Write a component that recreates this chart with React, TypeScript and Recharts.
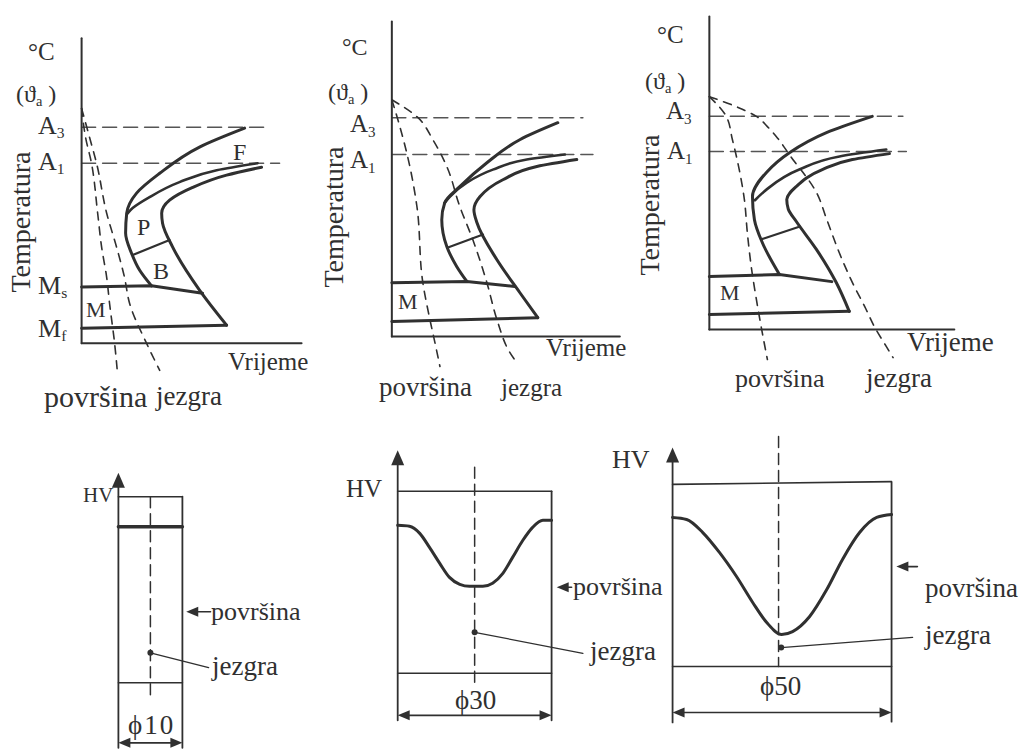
import React from "react";
import { ComposedChart, Line, Scatter, XAxis, YAxis } from "recharts";

type Pt = { x: number; y: number };
type Head = Pt & { dir: "up" | "left" | "right" };

const INK = "#303030";
const GREY = "#555";
const SERIF = '"Liberation Serif", "DejaVu Serif", "Times New Roman", serif';

// CCT diagrams: time 0..100 on x, temperature 0..100 on y (axis top = 100)
const tempAxis: Pt[] = [{ x: 0, y: 0 }, { x: 0, y: 100 }];
const timeAxis: Pt[] = [{ x: 0, y: 0 }, { x: 100, y: 0 }];

// --- diagram 1 (phi 10)
const d1A3: Pt[] = [{ x: 0, y: 70.8 }, { x: 85.5, y: 70.8 }];
const d1A1: Pt[] = [{ x: 0, y: 59 }, { x: 90, y: 59 }];
const d1Start: Pt[] = [
  { x: 74.1, y: 70.5 }, { x: 53.6, y: 64.3 }, { x: 35.5, y: 55.7 }, { x: 25, y: 49.2 },
  { x: 20.5, y: 42.6 }, { x: 20, y: 36.1 }, { x: 22.7, y: 29.5 }, { x: 26.4, y: 23.9 }, { x: 31.8, y: 18.8 },
];
const d1Ferrite: Pt[] = [
  { x: 80, y: 59 }, { x: 61.4, y: 56.7 }, { x: 44.5, y: 52.8 }, { x: 30.9, y: 47.9 },
  { x: 23.2, y: 44.3 }, { x: 20.7, y: 42.4 },
];
const d1End: Pt[] = [
  { x: 81.8, y: 57.7 }, { x: 65.9, y: 55.1 }, { x: 50.5, y: 51.1 }, { x: 40, y: 46.9 },
  { x: 36.4, y: 42.6 }, { x: 36.8, y: 39.3 }, { x: 41.4, y: 31.5 }, { x: 53.6, y: 17.4 }, { x: 65.9, y: 5.9 },
];
const d1PB: Pt[] = [{ x: 23.2, y: 28.9 }, { x: 40, y: 33.8 }];
const d1Ms: Pt[] = [{ x: 0, y: 18.4 }, { x: 31.8, y: 18.8 }, { x: 55, y: 16.4 }];
const d1Mf: Pt[] = [{ x: 0, y: 4.9 }, { x: 65.9, y: 5.9 }];
const d1Surface: Pt[] = [
  { x: 0, y: 77 }, { x: 1.8, y: 67.5 }, { x: 4.5, y: 59 }, { x: 7.3, y: 42.6 }, { x: 9.1, y: 31.5 },
  { x: 11.4, y: 21.6 }, { x: 12.7, y: 13.1 }, { x: 15, y: 0 }, { x: 16.4, y: -10.5 },
];
const d1Core: Pt[] = [
  { x: 0, y: 77 }, { x: 3.6, y: 67.5 }, { x: 6.8, y: 59 }, { x: 11.4, y: 42.6 }, { x: 15.9, y: 31.5 },
  { x: 19.5, y: 21.6 }, { x: 21.8, y: 13.1 }, { x: 29.5, y: 0 }, { x: 35.5, y: -8.9 },
];

// --- diagram 2 (phi 30)
const d2A3: Pt[] = [{ x: 0, y: 69.5 }, { x: 83.8, y: 69.5 }];
const d2A1: Pt[] = [{ x: 0, y: 57.8 }, { x: 88.2, y: 57.8 }];
const d2Start: Pt[] = [
  { x: 72.8, y: 67.9 }, { x: 56.1, y: 62.5 }, { x: 41.7, y: 55.2 }, { x: 29.8, y: 47.6 },
  { x: 23.2, y: 42.5 }, { x: 21.9, y: 37.1 }, { x: 24.1, y: 28.6 }, { x: 28.5, y: 22.2 }, { x: 32.9, y: 17.5 },
];
const d2Ferrite: Pt[] = [
  { x: 75.9, y: 57.8 }, { x: 59.2, y: 56.2 }, { x: 44.3, y: 53 }, { x: 32.9, y: 48.9 },
  { x: 25.4, y: 44.4 }, { x: 23, y: 42.3 },
];
const d2End: Pt[] = [
  { x: 81.1, y: 56.2 }, { x: 63.6, y: 54 }, { x: 48.7, y: 49.8 }, { x: 38.6, y: 44.4 },
  { x: 36, y: 40.3 }, { x: 37.3, y: 36.2 }, { x: 46.1, y: 24.4 }, { x: 56.1, y: 14 }, { x: 64, y: 6 },
];
const d2PB: Pt[] = [{ x: 24.6, y: 28.3 }, { x: 40, y: 32.4 }];
const d2Ms: Pt[] = [{ x: 0, y: 17.1 }, { x: 32.9, y: 17.5 }, { x: 54, y: 15.9 }];
const d2Mf: Pt[] = [{ x: 0, y: 4.8 }, { x: 64, y: 6 }];
const d2Surface: Pt[] = [
  { x: 0, y: 75.2 }, { x: 3.5, y: 66.7 }, { x: 7.9, y: 54 }, { x: 11, y: 41.3 },
  { x: 13.6, y: 17.1 }, { x: 16.7, y: 5.4 }, { x: 18.9, y: -1.9 }, { x: 21.1, y: -9.5 },
];
const d2Core: Pt[] = [
  { x: 0, y: 75.2 }, { x: 11, y: 69.8 }, { x: 18, y: 62.5 }, { x: 24.1, y: 54 }, { x: 29.8, y: 41.3 },
  { x: 35.5, y: 30.8 }, { x: 41.7, y: 17.1 }, { x: 46.1, y: 5.4 }, { x: 51.8, y: -5.1 }, { x: 54.8, y: -8.3 },
];

// --- diagram 3 (phi 50)
const d3A3: Pt[] = [{ x: 0, y: 68.1 }, { x: 79, y: 68.1 }];
const d3A1: Pt[] = [{ x: 0, y: 56.9 }, { x: 80.4, y: 56.9 }];
const d3Start: Pt[] = [
  { x: 66.5, y: 68.1 }, { x: 47.8, y: 62.9 }, { x: 32.7, y: 56.5 }, { x: 23.3, y: 50.2 },
  { x: 17.6, y: 42.5 }, { x: 18.4, y: 35.1 }, { x: 21.6, y: 27.8 }, { x: 28.6, y: 17.6 },
];
const d3Ferrite: Pt[] = [
  { x: 72.2, y: 57.5 }, { x: 53.1, y: 55.3 }, { x: 36.7, y: 51.1 }, { x: 23.3, y: 44.7 }, { x: 18.6, y: 41.3 },
];
const d3End: Pt[] = [
  { x: 73.5, y: 56.2 }, { x: 58.4, y: 54.3 }, { x: 46.1, y: 51.1 }, { x: 35.5, y: 45.7 }, { x: 31.6, y: 41.5 },
  { x: 32.2, y: 38.5 }, { x: 35.5, y: 34.5 }, { x: 43.7, y: 25.6 }, { x: 51.8, y: 15 }, { x: 57.1, y: 5.8 },
];
const d3PB: Pt[] = [{ x: 21.2, y: 28.8 }, { x: 37, y: 32.9 }];
const d3Ms: Pt[] = [{ x: 0, y: 16.9 }, { x: 28.6, y: 17.6 }, { x: 50, y: 15.3 }];
const d3Mf: Pt[] = [{ x: 0, y: 4.8 }, { x: 57.1, y: 5.8 }];
const d3Surface: Pt[] = [
  { x: 0, y: 74.4 }, { x: 6.9, y: 68.1 }, { x: 9.4, y: 60.7 }, { x: 12.2, y: 51.1 }, { x: 14.3, y: 41.5 },
  { x: 15.5, y: 31 }, { x: 17.1, y: 20.1 }, { x: 19.2, y: 9.6 }, { x: 21.6, y: -1 }, { x: 23.7, y: -9.6 },
];
const d3Core: Pt[] = [
  { x: 0, y: 74.4 }, { x: 12.2, y: 70.8 }, { x: 19.2, y: 68.1 }, { x: 23.5, y: 65 }, { x: 27.3, y: 61.7 },
  { x: 33, y: 55.5 }, { x: 43.7, y: 43.8 }, { x: 48, y: 35 }, { x: 53, y: 24.6 }, { x: 58.4, y: 15 },
  { x: 64, y: 6.4 }, { x: 67.3, y: 1 }, { x: 72.2, y: -5.4 }, { x: 75, y: -9 },
];

// --- hardness profiles: x = position across diameter (mm), y = HV (box top = 100)
const h1Left: Pt[] = [{ x: -5, y: -35 }, { x: -5, y: 110 }];
const h1Right: Pt[] = [{ x: 5, y: -35 }, { x: 5, y: 100 }];
const h1Top: Pt[] = [{ x: -5, y: 100 }, { x: 5, y: 100 }];
const h1Base: Pt[] = [{ x: -5, y: 0 }, { x: 5, y: 0 }];
const h1Profile: Pt[] = [{ x: -5, y: 83.9 }, { x: 5, y: 83.9 }];
const h1Center: Pt[] = [{ x: 0, y: 100 }, { x: 0, y: -9 }];
const h1Leader: Pt[] = [{ x: 0, y: 16.1 }, { x: 9.1, y: 8.1 }];
const h1SurfArrow: Pt[] = [{ x: 9.4, y: 38.2 }, { x: 6.5, y: 38.2 }];
const h1Dim: Pt[] = [{ x: -4, y: -32.3 }, { x: 4, y: -32.3 }];
const h1Heads: Head[] = [
  { x: -5, y: 112.9, dir: "up" }, { x: 5.6, y: 38.2, dir: "left" },
  { x: -5, y: -32.3, dir: "left" }, { x: 5, y: -32.3, dir: "right" },
];
const h1Core: Pt[] = [{ x: 0, y: 16.1 }];

const h2Left: Pt[] = [{ x: -15, y: -25.8 }, { x: -15, y: 120 }];
const h2Right: Pt[] = [{ x: 15, y: -25.8 }, { x: 15, y: 100 }];
const h2Top: Pt[] = [{ x: -15, y: 100 }, { x: 15, y: 100 }];
const h2Base: Pt[] = [{ x: -15, y: 0 }, { x: 15, y: 0 }];
const h2Profile: Pt[] = [
  { x: -15, y: 81.3 }, { x: -12.7, y: 80.8 }, { x: -10.7, y: 76.9 }, { x: -8.8, y: 69.2 }, { x: -6.8, y: 60.4 },
  { x: -4.9, y: 52.7 }, { x: -2.9, y: 48.9 }, { x: -1, y: 47.8 }, { x: 1.6, y: 47.8 }, { x: 3.5, y: 49.5 },
  { x: 5.5, y: 54.9 }, { x: 7.4, y: 63.7 }, { x: 9.4, y: 73.1 }, { x: 11.3, y: 80.2 }, { x: 13.3, y: 84.1 }, { x: 15, y: 84.1 },
];
const h2Center: Pt[] = [{ x: 0, y: 113.2 }, { x: 0, y: -7.7 }];
const h2Leader: Pt[] = [{ x: 0, y: 22.5 }, { x: 21.1, y: 11 }];
const h2SurfArrow: Pt[] = [{ x: 18.9, y: 47.3 }, { x: 17, y: 47.3 }];
const h2Dim: Pt[] = [{ x: -14, y: -23.1 }, { x: 14, y: -23.1 }];
const h2Heads: Head[] = [
  { x: -15, y: 122.5, dir: "up" }, { x: 16, y: 47.3, dir: "left" },
  { x: -15, y: -23.1, dir: "left" }, { x: 15, y: -23.1, dir: "right" },
];
const h2Core: Pt[] = [{ x: 0, y: 22.5 }];

const h3Left: Pt[] = [{ x: -25, y: -30.4 }, { x: -25, y: 117 }];
const h3Right: Pt[] = [{ x: 25, y: -30 }, { x: 25, y: 100 }];
const h3Top: Pt[] = [{ x: -25, y: 99 }, { x: 25, y: 100.5 }];
const h3Base: Pt[] = [{ x: -25, y: 0 }, { x: 25, y: 0 }];
const h3Profile: Pt[] = [
  { x: -25, y: 81 }, { x: -21.8, y: 79.9 }, { x: -18.1, y: 72.8 }, { x: -14.3, y: 62 }, { x: -10.4, y: 48.9 },
  { x: -6.7, y: 34.8 }, { x: -3.5, y: 23.9 }, { x: -0.1, y: 17.4 }, { x: 2.4, y: 19 }, { x: 6.3, y: 27.2 },
  { x: 10.2, y: 41.8 }, { x: 13.8, y: 58.2 }, { x: 17.7, y: 72.8 }, { x: 21.6, y: 81 }, { x: 25, y: 82.6 },
];
const h3Center: Pt[] = [{ x: -0.8, y: 125 }, { x: -0.8, y: 0 }];
const h3Leader: Pt[] = [{ x: -0.2, y: 10.3 }, { x: 29.8, y: 15.8 }];
const h3SurfArrow: Pt[] = [{ x: 30.9, y: 54.3 }, { x: 27.5, y: 54.3 }];
const h3Dim: Pt[] = [{ x: -24, y: -25 }, { x: 24, y: -25 }];
const h3Heads: Head[] = [
  { x: -25, y: 119, dir: "up" }, { x: 26.1, y: 54.3, dir: "left" },
  { x: -25, y: -25, dir: "left" }, { x: 25, y: -25, dir: "right" },
];
const h3Core: Pt[] = [{ x: -0.2, y: 10.3 }];

type Series = { data: Pt[]; w: number; dash?: string; curve?: any; color?: string };
type Box = { ox: number; oy: number; sx: number; sy: number; xd: [number, number]; yd: [number, number] };

function ArrowHead(props: any) {
  const { cx, cy, payload } = props;
  if (cx == null || cy == null) return null;
  const big = payload.dir === "up";
  const len = big ? 15 : 12;
  const half = big ? 6.5 : 5;
  let d = "";
  if (payload.dir === "up") d = `M${cx},${cy} L${cx - half},${cy + len} L${cx + half},${cy + len} Z`;
  if (payload.dir === "left") d = `M${cx},${cy} L${cx + len},${cy - half} L${cx + len},${cy + half} Z`;
  if (payload.dir === "right") d = `M${cx},${cy} L${cx - len},${cy - half} L${cx - len},${cy + half} Z`;
  return <path d={d} fill={INK} />;
}

function CoreDot(props: any) {
  const { cx, cy } = props;
  if (cx == null || cy == null) return null;
  return <circle cx={cx} cy={cy} r={3} fill={INK} />;
}

function Panel({ box, series, heads, dots }: { box: Box; series: Series[]; heads?: Head[]; dots?: Pt[] }) {
  const { ox, oy, sx, sy, xd, yd } = box;
  const left = ox + xd[0] * sx;
  const top = oy - yd[1] * sy;
  const width = (xd[1] - xd[0]) * sx;
  const height = (yd[1] - yd[0]) * sy;
  return (
    <div style={{ position: "absolute", left, top }}>
      <ComposedChart width={width} height={height} margin={{ top: 0, right: 0, bottom: 0, left: 0 }}>
        <XAxis type="number" dataKey="x" domain={xd} allowDataOverflow hide />
        <YAxis type="number" dataKey="y" domain={yd} allowDataOverflow hide />
        {series.map((s, i) => (
          <Line
            key={i}
            data={s.data}
            dataKey="y"
            type={s.curve ?? "linear"}
            stroke={s.color ?? INK}
            strokeWidth={s.w}
            strokeDasharray={s.dash}
            strokeLinecap="round"
            dot={false}
            activeDot={false}
            isAnimationActive={false}
          />
        ))}
        {heads && <Scatter data={heads} shape={ArrowHead} isAnimationActive={false} />}
        {dots && <Scatter data={dots} shape={CoreDot} isAnimationActive={false} />}
      </ComposedChart>
    </div>
  );
}

function cct(
  a3: Pt[], a1: Pt[], start: Pt[], ferrite: Pt[], end: Pt[], pb: Pt[], ms: Pt[], mf: Pt[], surf: Pt[], core: Pt[]
): Series[] {
  return [
    { data: a3, w: 1.5, dash: "14 7", color: GREY },
    { data: a1, w: 1.5, dash: "14 7", color: GREY },
    { data: surf, w: 1.6, dash: "8 7", curve: "monotoneY" },
    { data: core, w: 1.6, dash: "8 7", curve: "monotoneY" },
    { data: tempAxis, w: 2 },
    { data: timeAxis, w: 2 },
    { data: start, w: 3, curve: "monotoneY" },
    { data: ferrite, w: 2.6, curve: "monotoneY" },
    { data: end, w: 3, curve: "monotoneY" },
    { data: pb, w: 2.2 },
    { data: ms, w: 3 },
    { data: mf, w: 3 },
  ];
}

function hv(
  l: Pt[], r: Pt[], t: Pt[], b: Pt[], prof: Pt[], c: Pt[], lead: Pt[], arr: Pt[], dim: Pt[], profW: number
): Series[] {
  return [
    { data: l, w: 1.8 },
    { data: r, w: 1.8 },
    { data: t, w: 1.6 },
    { data: b, w: 1.6 },
    { data: c, w: 1.5, dash: "11 6" },
    { data: prof, w: profW, curve: "monotoneX" },
    { data: lead, w: 1.3 },
    { data: arr, w: 1.6 },
    { data: dim, w: 1.6 },
  ];
}

const boxes: Record<string, Box> = {
  d1: { ox: 82, oy: 343, sx: 2.2, sy: 3.05, xd: [-3, 103], yd: [-14, 104] },
  d2: { ox: 392, oy: 337, sx: 2.28, sy: 3.15, xd: [-3, 103], yd: [-12, 104] },
  d3: { ox: 709, oy: 330, sx: 2.45, sy: 3.13, xd: [-3, 103], yd: [-12, 104] },
  h1: { ox: 150, oy: 683, sx: 6.4, sy: 1.86, xd: [-6, 16], yd: [-37, 116] },
  h2: { ox: 475, oy: 673, sx: 5.13, sy: 1.82, xd: [-16.5, 23], yd: [-28, 126] },
  h3: { ox: 782.5, oy: 667, sx: 4.38, sy: 1.84, xd: [-26.5, 32], yd: [-32, 128] },
};

function Txt({ x, y, fs, ls, children }: { x: number; y: number; fs: number; ls?: number; children: React.ReactNode }) {
  return (
    <div
      style={{
        position: "absolute",
        left: x,
        top: y - fs * 0.55,
        fontSize: fs,
        lineHeight: `${fs}px`,
        letterSpacing: ls ?? 0,
        whiteSpace: "nowrap",
        color: INK,
        fontFamily: SERIF,
      }}
    >
      {children}
    </div>
  );
}

function Sub({ children }: { children: React.ReactNode }) {
  return <span style={{ fontSize: "0.6em", position: "relative", top: "0.3em" }}>{children}</span>;
}

function VText({ x, y, fs, children }: { x: number; y: number; fs: number; children: React.ReactNode }) {
  return (
    <div
      style={{
        position: "absolute",
        left: x,
        top: y,
        fontSize: fs,
        lineHeight: `${fs}px`,
        whiteSpace: "nowrap",
        color: INK,
        fontFamily: SERIF,
        transform: "translate(-50%, -50%) rotate(-90deg)",
      }}
    >
      {children}
    </div>
  );
}

function Theta() {
  return (
    <>
      (ϑ<Sub>a</Sub> )
    </>
  );
}

export default function App() {
  return (
    <div
      style={{
        position: "absolute",
        left: 0,
        top: 0,
        width: 1026,
        height: 749,
        background: "#fff",
        overflow: "hidden",
        fontFamily: SERIF,
      }}
    >
      <Panel box={boxes.d1} series={cct(d1A3, d1A1, d1Start, d1Ferrite, d1End, d1PB, d1Ms, d1Mf, d1Surface, d1Core)} />
      <Panel box={boxes.d2} series={cct(d2A3, d2A1, d2Start, d2Ferrite, d2End, d2PB, d2Ms, d2Mf, d2Surface, d2Core)} />
      <Panel box={boxes.d3} series={cct(d3A3, d3A1, d3Start, d3Ferrite, d3End, d3PB, d3Ms, d3Mf, d3Surface, d3Core)} />

      <Panel
        box={boxes.h1}
        series={hv(h1Left, h1Right, h1Top, h1Base, h1Profile, h1Center, h1Leader, h1SurfArrow, h1Dim, 3.5)}
        heads={h1Heads}
        dots={h1Core}
      />
      <Panel
        box={boxes.h2}
        series={hv(h2Left, h2Right, h2Top, h2Base, h2Profile, h2Center, h2Leader, h2SurfArrow, h2Dim, 3)}
        heads={h2Heads}
        dots={h2Core}
      />
      <Panel
        box={boxes.h3}
        series={hv(h3Left, h3Right, h3Top, h3Base, h3Profile, h3Center, h3Leader, h3SurfArrow, h3Dim, 3)}
        heads={h3Heads}
        dots={h3Core}
      />

      {/* diagram 1 labels */}
      <Txt x={28} y={53} fs={25}>°C</Txt>
      <Txt x={16} y={95} fs={24}><Theta /></Txt>
      <Txt x={38} y={127} fs={26}>A<Sub>3</Sub></Txt>
      <Txt x={38} y={163} fs={26}>A<Sub>1</Sub></Txt>
      <Txt x={38} y={287} fs={26}>M<Sub>s</Sub></Txt>
      <Txt x={38} y={330} fs={26}>M<Sub>f</Sub></Txt>
      <VText x={21} y={222} fs={28}>Temperatura</VText>
      <Txt x={86} y={311} fs={22}>M</Txt>
      <Txt x={137} y={228} fs={24}>P</Txt>
      <Txt x={153} y={272} fs={24}>B</Txt>
      <Txt x={233} y={153} fs={24}>F</Txt>
      <Txt x={228} y={363} fs={25}>Vrijeme</Txt>
      <Txt x={44} y={398} fs={30}>površina</Txt>
      <Txt x={156} y={398} fs={27}>jezgra</Txt>

      {/* diagram 2 labels */}
      <Txt x={342} y={48} fs={24}>°C</Txt>
      <Txt x={328} y={93} fs={24}><Theta /></Txt>
      <Txt x={350} y={125} fs={25}>A<Sub>3</Sub></Txt>
      <Txt x={350} y={161} fs={25}>A<Sub>1</Sub></Txt>
      <VText x={334} y={217} fs={28}>Temperatura</VText>
      <Txt x={398} y={303} fs={22}>M</Txt>
      <Txt x={546} y={349} fs={25}>Vrijeme</Txt>
      <Txt x={379} y={389} fs={27}>površina</Txt>
      <Txt x={501} y={389} fs={25}>jezgra</Txt>

      {/* diagram 3 labels */}
      <Txt x={657} y={36} fs={25}>°C</Txt>
      <Txt x={645} y={82} fs={24}><Theta /></Txt>
      <Txt x={666} y={112} fs={25}>A<Sub>3</Sub></Txt>
      <Txt x={667} y={152} fs={25}>A<Sub>1</Sub></Txt>
      <VText x={650} y={205} fs={28}>Temperatura</VText>
      <Txt x={720} y={294} fs={22}>M</Txt>
      <Txt x={907} y={344} fs={27}>Vrijeme</Txt>
      <Txt x={735} y={380} fs={26}>površina</Txt>
      <Txt x={866} y={380} fs={27}>jezgra</Txt>

      {/* hardness labels */}
      <Txt x={83} y={497} fs={21}>HV</Txt>
      <Txt x={211} y={613} fs={26}>površina</Txt>
      <Txt x={212} y={668} fs={27}>jezgra</Txt>
      <Txt x={128} y={727} fs={27} ls={2}>ϕ10</Txt>

      <Txt x={346} y={490} fs={25}>HV</Txt>
      <Txt x={573} y={588} fs={26}>površina</Txt>
      <Txt x={590} y={653} fs={27}>jezgra</Txt>
      <Txt x={455} y={702} fs={27}>ϕ30</Txt>

      <Txt x={612} y={461} fs={26}>HV</Txt>
      <Txt x={925} y={590} fs={27}>površina</Txt>
      <Txt x={925} y={637} fs={27}>jezgra</Txt>
      <Txt x={760} y={688} fs={27}>ϕ50</Txt>
    </div>
  );
}
